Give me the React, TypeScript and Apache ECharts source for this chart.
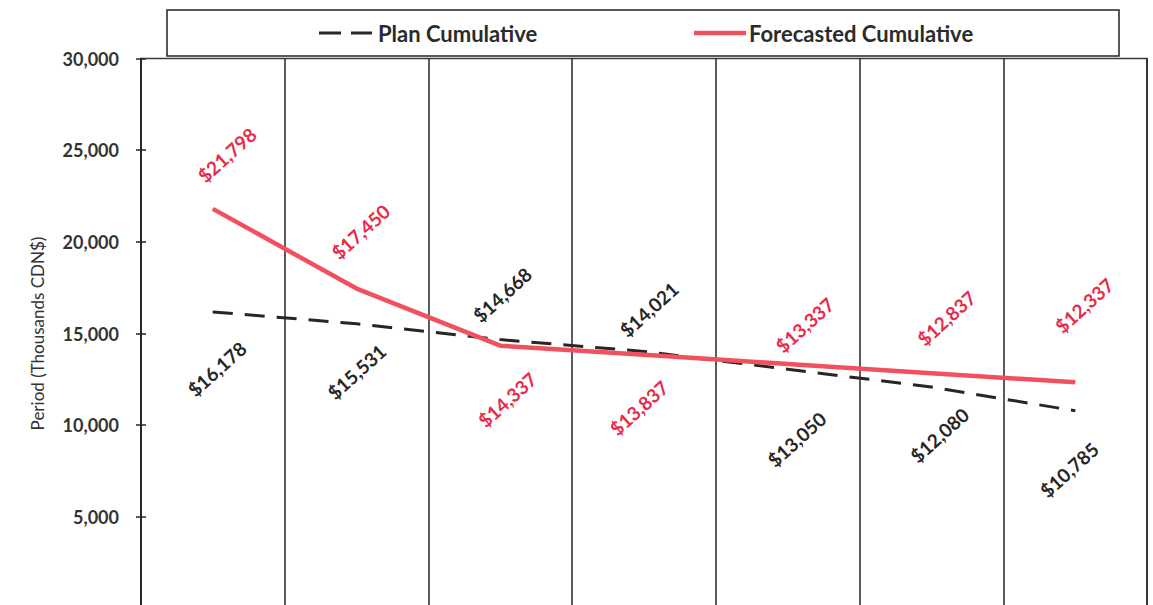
import React, { useEffect, useRef } from "react";
import * as echarts from "echarts";

// Periods along the x axis
const periods = ["Period 1", "Period 2", "Period 3", "Period 4", "Period 5", "Period 6", "Period 7"];

// Cumulative values in thousands CDN$
const planCumulative = [16178, 15531, 14668, 14021, 13050, 12080, 10785];
const forecastCumulative = [21798, 17450, 14337, 13837, 13337, 12837, 12337];

// Y axis ticks
const yMin = 0;
const yMax = 30000;
const yStep = 5000;

// Where each value label's centre sits relative to its point, in screen px
const planLabelOffsets: [number, number][] = [
  [4, 57], [0, 48], [2, -45], [5, -42], [9, 70], [8, 48], [-6, 59],
];
const forecastLabelOffsets: [number, number][] = [
  [14, -54], [4, -57], [7, 54], [-5, 53], [17, -39], [15, -55], [9, -77],
];

const FONT = "Lato, 'Open Sans', sans-serif";
const RED_LINE = "#f1515e";
const RED_TEXT = "#e92a4a";
const DARK = "#262626";
const LABEL_ROTATE = 42;

const money = (v: number) => "$" + v.toLocaleString("en-US");

// Label offsets are applied in the label's rotated frame; convert a screen offset into it.
const toLocal = ([dx, dy]: [number, number]): [number, number] => {
  const r = (LABEL_ROTATE * Math.PI) / 180;
  return [dx * Math.cos(r) - dy * Math.sin(r), dx * Math.sin(r) + dy * Math.cos(r)];
};

export default function App() {
  const ref = useRef<HTMLDivElement>(null);

  useEffect(() => {
    if (!ref.current) return;
    const chart = echarts.init(ref.current, undefined, { renderer: "svg" });

    const labelled = (values: number[], offsets: [number, number][], color: string) =>
      values.map((v, i) => ({
        value: v,
        label: {
          show: true,
          position: "inside",
          offset: toLocal(offsets[i]),
          rotate: LABEL_ROTATE,
          align: "center",
          verticalAlign: "middle",
          formatter: () => money(v),
          color,
          fontFamily: FONT,
          fontWeight: "bold",
          fontSize: 19,
        },
      }));

    const legendText = {
      fontFamily: FONT,
      fontWeight: "bold",
      fontSize: 22,
      fill: "#2b2b2b",
      verticalAlign: "middle",
      align: "left",
    };

    chart.setOption({
      animation: false,
      backgroundColor: "#ffffff",
      grid: {
        left: 141,
        right: 6,
        top: 58.5,
        bottom: 31.5,
        show: true,
        borderColor: "#3a3a3a",
        borderWidth: 1.5,
        backgroundColor: "transparent",
      },
      graphic: [
        {
          type: "rect",
          z: -1,
          shape: { x: 167, y: 10, width: 952, height: 46 },
          style: { fill: "#ffffff", stroke: "#222222", lineWidth: 1.5 },
        },
        // legend: plan cumulative
        {
          type: "line",
          shape: { x1: 319, y1: 33, x2: 372, y2: 33 },
          style: { stroke: DARK, lineWidth: 3, lineDash: [22, 10] },
        },
        { type: "text", x: 378, y: 33, style: { ...legendText, text: "Plan Cumulative" } },
        // legend: forecasted cumulative
        {
          type: "line",
          shape: { x1: 694, y1: 33, x2: 746, y2: 33 },
          style: { stroke: RED_LINE, lineWidth: 4.5 },
        },
        { type: "text", x: 749, y: 33, style: { ...legendText, text: "Forecasted Cumulative" } },
      ],
      xAxis: {
        type: "category",
        data: periods,
        boundaryGap: true,
        axisLine: { lineStyle: { color: DARK, width: 1.5 } },
        axisTick: { show: false },
        axisLabel: { show: false },
        splitLine: { show: true, lineStyle: { color: DARK, width: 1.5 } },
      },
      yAxis: [
        {
          type: "value",
          min: yMin,
          max: yMax,
          interval: yStep,
          name: "Period (Thousands CDN$)",
          nameLocation: "middle",
          nameGap: 95,
          nameTextStyle: { fontFamily: FONT, fontSize: 17, color: "#333333" },
          axisLine: { show: true, lineStyle: { color: DARK, width: 1.5 } },
          axisTick: { show: true, length: 5, lineStyle: { color: DARK, width: 1.5 } },
          axisLabel: {
            margin: 22,
            showMinLabel: false,
            fontFamily: FONT,
            fontWeight: "bold",
            fontSize: 18,
            color: "#333333",
            formatter: (v: number) => v.toLocaleString("en-US"),
          },
          splitLine: { show: false },
        },
        {
          // inner half of the crossing tick marks
          type: "value",
          position: "left",
          min: yMin,
          max: yMax,
          interval: yStep,
          axisLine: { show: false },
          axisTick: { show: true, inside: true, length: 5, lineStyle: { color: DARK, width: 1.5 } },
          axisLabel: { show: false },
          splitLine: { show: false },
        },
      ],
      series: [
        {
          name: "Plan Cumulative",
          type: "line",
          data: labelled(planCumulative, planLabelOffsets, DARK),
          symbol: "circle",
          symbolSize: 1,
          itemStyle: { color: DARK },
          lineStyle: { color: DARK, width: 3, type: [20, 12] },
          z: 3,
        },
        {
          name: "Forecasted Cumulative",
          type: "line",
          data: labelled(forecastCumulative, forecastLabelOffsets, RED_TEXT),
          symbol: "circle",
          symbolSize: 1,
          itemStyle: { color: RED_LINE },
          lineStyle: { color: RED_LINE, width: 4.5 },
          z: 4,
        },
      ],
    });

    return () => chart.dispose();
  }, []);

  return (
    <div style={{ position: "fixed", left: 0, top: 0, width: 1153, height: 605, overflow: "hidden", background: "#fff" }}>
      <div ref={ref} style={{ width: 1153, height: 640 }} />
    </div>
  );
}
